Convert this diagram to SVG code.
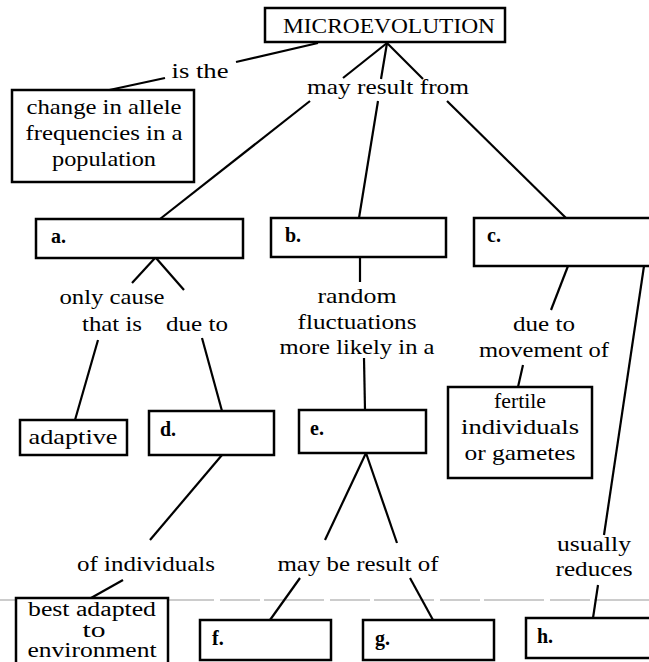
<svg xmlns="http://www.w3.org/2000/svg" width="649" height="662" viewBox="0 0 649 662">
<style>
.box{fill:#fff;stroke:#000;stroke-width:2.5}
.t{font-family:"Liberation Serif","DejaVu Serif",serif;font-size:22px;fill:#000;text-anchor:middle}
.s{font-size:20px}
.l{font-family:"Liberation Serif","DejaVu Serif",serif;font-size:20px;font-weight:bold;fill:#000}
.c line{stroke:#000;stroke-width:2.2}
</style>
<rect width="649" height="662" fill="#fff"/>
<line x1="0" y1="600" x2="649" y2="600" stroke="#999" stroke-width="1" stroke-dasharray="40,4,60,6"/>
<g class="c" id="connectors">
<line x1="318" y1="43" x2="236" y2="62"/>
<line x1="165" y1="78" x2="100" y2="92"/>
<line x1="387" y1="43" x2="343" y2="78"/>
<line x1="387" y1="43" x2="381" y2="79"/>
<line x1="387" y1="43" x2="423" y2="79"/>
<line x1="310" y1="101" x2="160" y2="219"/>
<line x1="378" y1="101" x2="359" y2="218"/>
<line x1="447" y1="101" x2="566" y2="218"/>
<line x1="155" y1="258" x2="132" y2="283"/>
<line x1="156" y1="258" x2="184" y2="290"/>
<line x1="98" y1="340" x2="75" y2="420"/>
<line x1="202" y1="338" x2="222" y2="411"/>
<line x1="360" y1="257" x2="360" y2="282"/>
<line x1="364" y1="358" x2="365" y2="410"/>
<line x1="568" y1="266" x2="551" y2="310"/>
<line x1="523" y1="365" x2="518" y2="387"/>
<line x1="644" y1="266" x2="604" y2="535"/>
<line x1="598" y1="585" x2="593" y2="618"/>
<line x1="222" y1="455" x2="150" y2="540"/>
<line x1="123" y1="580" x2="91" y2="598"/>
<line x1="366" y1="453" x2="325" y2="540"/>
<line x1="366" y1="453" x2="397" y2="543"/>
<line x1="300" y1="578" x2="270" y2="620"/>
<line x1="410" y1="578" x2="433" y2="620"/>
</g>
<g id="microevolution"><rect class="box" x="265" y="8" width="240" height="34"/><text class="t" x="389" y="33" textLength="212" lengthAdjust="spacingAndGlyphs">MICROEVOLUTION</text></g>
<g id="is-the"><text class="t" x="200" y="78" textLength="57" lengthAdjust="spacingAndGlyphs">is the</text></g>
<g id="change"><rect class="box" x="12" y="90" width="182" height="92"/><text class="t" x="104" y="114" textLength="155" lengthAdjust="spacingAndGlyphs">change in allele</text><text class="t" x="104" y="140" textLength="157" lengthAdjust="spacingAndGlyphs">frequencies in a</text><text class="t" x="104" y="166" textLength="104" lengthAdjust="spacingAndGlyphs">population</text></g>
<g id="may-result"><text class="t" x="388" y="94" textLength="162" lengthAdjust="spacingAndGlyphs">may result from</text></g>
<g id="a"><rect class="box" x="36" y="219" width="207" height="39"/><text class="l" x="51" y="243">a.</text></g>
<g id="b"><rect class="box" x="271" y="218" width="175" height="39"/><text class="l" x="285" y="242">b.</text></g>
<g id="c"><rect class="box" x="474" y="218" width="180" height="48"/><text class="l" x="487" y="242">c.</text></g>
<g id="only-cause"><text class="t" x="112" y="304" textLength="105" lengthAdjust="spacingAndGlyphs">only cause</text><text class="t" x="112" y="331" textLength="60" lengthAdjust="spacingAndGlyphs">that is</text></g>
<g id="due-to-a"><text class="t" x="197" y="331" textLength="62" lengthAdjust="spacingAndGlyphs">due to</text></g>
<g id="random"><text class="t" x="357" y="303" textLength="79" lengthAdjust="spacingAndGlyphs">random</text><text class="t" x="357" y="329" textLength="119" lengthAdjust="spacingAndGlyphs">fluctuations</text><text class="t" x="357" y="354" textLength="155" lengthAdjust="spacingAndGlyphs">more likely in a</text></g>
<g id="due-to-c"><text class="t" x="544" y="331" textLength="62" lengthAdjust="spacingAndGlyphs">due to</text><text class="t" x="544" y="357" textLength="130" lengthAdjust="spacingAndGlyphs">movement of</text></g>
<g id="adaptive"><rect class="box" x="20" y="420" width="107" height="35"/><text class="t" x="73" y="444" textLength="89" lengthAdjust="spacingAndGlyphs">adaptive</text></g>
<g id="d"><rect class="box" x="149" y="411" width="125" height="44"/><text class="l" x="160" y="436">d.</text></g>
<g id="e"><rect class="box" x="299" y="410" width="127" height="43"/><text class="l" x="310" y="435">e.</text></g>
<g id="fertile"><rect class="box" x="448" y="387" width="144" height="91"/><text class="t" x="520" y="408" textLength="52" lengthAdjust="spacingAndGlyphs">fertile</text><text class="t" x="520" y="434" textLength="118" lengthAdjust="spacingAndGlyphs">individuals</text><text class="t" x="520" y="460" textLength="111" lengthAdjust="spacingAndGlyphs">or gametes</text></g>
<g id="usually"><text class="t" x="594" y="551" textLength="74" lengthAdjust="spacingAndGlyphs">usually</text><text class="t" x="594" y="576" textLength="77" lengthAdjust="spacingAndGlyphs">reduces</text></g>
<g id="of-individuals"><text class="t" x="146" y="571" textLength="138" lengthAdjust="spacingAndGlyphs">of individuals</text></g>
<g id="may-be"><text class="t" x="358" y="571" textLength="161" lengthAdjust="spacingAndGlyphs">may be result of</text></g>
<g id="best"><rect class="box" x="16" y="598" width="152" height="70"/><text class="t s" x="92" y="616" textLength="128" lengthAdjust="spacingAndGlyphs">best adapted</text><text class="t s" x="94" y="637" textLength="23" lengthAdjust="spacingAndGlyphs">to</text><text class="t s" x="92" y="657" textLength="129" lengthAdjust="spacingAndGlyphs">environment</text></g>
<g id="f"><rect class="box" x="200" y="620" width="131" height="40"/><text class="l" x="212" y="645">f.</text></g>
<g id="g"><rect class="box" x="363" y="620" width="131" height="40"/><text class="l" x="375" y="645">g.</text></g>
<g id="h"><rect class="box" x="526" y="618" width="130" height="40"/><text class="l" x="537" y="643">h.</text></g>
</svg>
